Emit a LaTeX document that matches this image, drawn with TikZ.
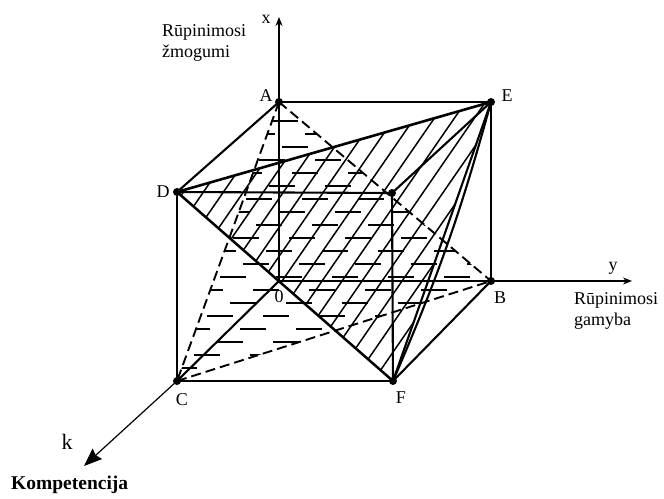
\documentclass[tikz,border=0pt]{standalone}
\usepackage{fontspec}
\setmainfont{Liberation Serif}
\usetikzlibrary{arrows.meta}
\begin{document}
\begin{tikzpicture}[x=1pt,y=-1pt,
 edge/.style={line width=2.1pt, line cap=round},
 dashedge/.style={line width=1.9pt, dash pattern=on 10pt off 5pt},
 hatchline/.style={line width=1.5pt},
 dashfill/.style={line width=1.8pt},
 thinaxis/.style={line width=1.4pt},
 lbl/.style={font=\fontsize{18}{20}\selectfont, inner sep=0pt},
 txt/.style={font=\fontsize{18}{21}\selectfont, inner sep=0pt, align=left, anchor=west}
]
\useasboundingbox (0,0) rectangle (664,498);
% vertices
\coordinate (A) at (279,102);
\coordinate (E) at (491,102);
\coordinate (D) at (177,192);
\coordinate (G) at (392,193);
\coordinate (O) at (279,281);
\coordinate (B) at (491,281);
\coordinate (C) at (177,381);
\coordinate (F) at (393,381);
\coordinate (xtip) at (279,17);
\coordinate (ytip) at (632,281);
\coordinate (ktip) at (84,466);

% horizontal dash hatching in triangle A-C-B
\begin{scope}
\clip (A) -- (C) -- (B) -- cycle;
\foreach \y [count=\n] in {108,121,...,385} {
  \pgfmathsetmacro\ph{mod(\n*23,56)}
  \draw[dashfill, dash pattern=on 26pt off 30pt, dash phase=\ph pt] (150,\y) -- (520,\y);
}
\end{scope}

% diagonal hatching in triangle D-E-F
\begin{scope}
\clip (D) -- (E) -- (F) -- cycle;
\foreach \i in {0,...,28} {
  \draw[hatchline] (-40+20*\i,400) -- ++(300,-435);
}
\end{scope}

% axes
\draw[thinaxis, -{Stealth[length=9pt,width=7pt]}] (O) -- (xtip);
\draw[thinaxis, -{Stealth[length=9pt,width=7pt]}] (O) -- (ytip);
\draw[line width=1.2pt, -{Stealth[length=18pt,width=14pt,inset=2pt]}] (C) -- (ktip);

% dashed lines
\draw[dashedge] (A) -- (C);
\draw[dashedge] (A) -- (B);
\draw[dashedge] (C) -- (B);

% solid edges
\draw[edge] (A) -- (E);
\draw[edge] (E) -- (B);
\draw[edge] (A) -- (D);
\draw[edge] (D) -- (G);
\draw[edge] (E) -- (G);
\draw[edge] (G) -- (F);
\draw[edge] (D) -- (C);
\draw[edge] (C) -- (F);
\draw[edge] (A) -- (O);
\draw[edge] (O) -- (B);
\draw[edge] (C) -- (O);
\draw[edge, line width=2.6pt] (D) -- (E);
\draw[edge, line width=2.5pt] (D) -- (F);
\draw[edge] (F) -- (B);
\draw[edge] (E) -- (F);
\draw[edge] (E) to[bend left=4] (F);

% vertex dots
\foreach \p in {A,E,D,G,B,C,F} \fill (\p) circle (4pt);

% labels
\node[lbl] (lA) at (266,96) {A};
\node[lbl] (lD) at (163,192) {D};
\node[lbl] (lE) at (507,96) {E};
\node[lbl] (lB) at (500,298) {B};
\node[lbl] (lC) at (182,400) {C};
\node[lbl] (lF) at (401,398) {F};
\node[lbl] (l0) at (279,297) {0};
\node[lbl] (lx) at (266,19) {x};
\node[lbl] (ly) at (613,268) {y};
\node[font=\fontsize{22}{24}\selectfont, inner sep=0pt] (lk) at (67,442) {k};
\node[txt] (tz) at (162,43) {Rūpinimosi\\žmogumi};
\node[txt] (tg) at (574,311) {Rūpinimosi\\gamyba};
\node[font=\bfseries\fontsize{19.5}{22}\selectfont, inner sep=0pt, anchor=west] (tk) at (11,485) {Kompetencija};
\end{tikzpicture}
\end{document}
